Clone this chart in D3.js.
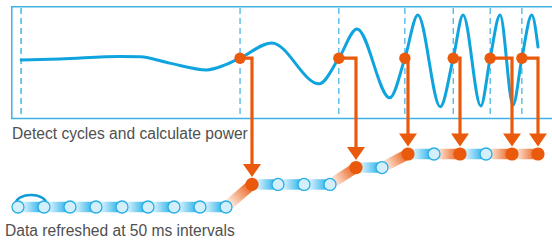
<!DOCTYPE html>
<html>
<head>
<meta charset="utf-8">
<script src="https://cdn.jsdelivr.net/npm/d3@7"></script>
<style>
    html, body { margin: 0; padding: 0; background: #fff; }
    svg { display: block; }
    .caption { font-family: 'Liberation Sans', Arial, sans-serif; font-size: 15.6px; fill: #505050; }
</style>
</head>
<body>
<svg id="chart" width="552" height="240"></svg>
<script>
'use strict';

// Waveform (time in ms, normalised amplitude)
const waveTimes = [6, 81, 196, 235, 292, 363, 398, 427, 488, 579, 617, 652, 715, 744, 769,
    812, 837, 856, 890, 908, 927, 952, 969, 988, 1000];
const waveValues = [0, 0.02, 0.08, 0.07, -0.07, -0.22, -0.11, 0.04, 0.38, -0.53, 0.04, 0.69, -0.84, 0.04, 1.0,
    -1.04, 0.04, 1.0, -1.02, 0.04, 1.0, -1.0, 0.04, 1.0, 0.29];

// Dashed cycle markers, and the detected cycles with the sample they land on
const markerTimes = [6, 427, 617, 744, 837, 908, 969];
const cycleTimes = [427, 617, 744, 837, 908, 969];
const cycleSamples = [9, 13, 15, 17, 19, 20];
const cycleLevel = 0.04;

// Refreshed samples (every 50 ms) and the accumulated power level
const sampleTimes = [0, 50, 100, 150, 200, 250, 300, 350, 400, 450, 500,
    550, 600, 650, 700, 750, 800, 850, 900, 950, 1000];
const sampleLevels = [0, 0, 0, 0, 0, 0, 0, 0, 0, 1, 1,
    1, 1, 1.75, 1.75, 2.35, 2.35, 2.35, 2.35, 2.35, 2.35];

const captions = ['Detect cycles and calculate power', 'Data refreshed at 50 ms intervals'];

const BLUE = '#10a4df';
const ORANGE = '#e95a0c';

const svg = d3.select('#chart');
const defs = svg.append('defs');

const x = d3.scaleLinear().domain([0, 1000]).range([18, 538]);
const yWave = d3.scaleLinear().domain([-1, 1]).range([105, 15]);
const yPower = d3.scaleLinear().domain([0, 2.35]).range([207, 154]);

drawFrame();
drawMarkers();
drawWave();
drawConnectors();
drawSamples();
drawCaptions();

function drawFrame() {
    svg.append('path')
        .attr('d', 'M560,6.8 H11.8 V118.6 H560')
        .attr('fill', 'none')
        .attr('stroke', '#3fb1e4')
        .attr('stroke-width', 1.5);
}

function drawMarkers() {
    svg.append('g')
        .selectAll('line')
        .data(markerTimes)
        .join('line')
        .attr('x1', d => x(d))
        .attr('x2', d => x(d))
        .attr('y1', 8)
        .attr('y2', 118)
        .attr('stroke', (d, i) => i === 0 ? '#5cc4ee' : '#29aae2')
        .attr('stroke-width', (d, i) => i === 0 ? 1.8 : 1.1)
        .attr('stroke-dasharray', '6,4');
}

function drawWave() {
    const line = d3.line()
        .x(d => x(d[0]))
        .y(d => yWave(d[1]))
        .curve(d3.curveMonotoneX);

    svg.append('path')
        .datum(d3.zip(waveTimes, waveValues))
        .attr('d', line)
        .attr('fill', 'none')
        .attr('stroke', BLUE)
        .attr('stroke-width', 3)
        .attr('stroke-linecap', 'round');
}

function drawConnectors() {
    const g = svg.append('g');

    cycleTimes.forEach((t, i) => {
        const idx = cycleSamples[i];
        const x0 = x(t);
        const y0 = yWave(cycleLevel);
        const x1 = x(sampleTimes[idx]);
        const tip = yPower(sampleLevels[idx]) - 7.5;

        g.append('path')
            .attr('d', `M${x0},${y0} H${x1} V${tip - 11}`)
            .attr('fill', 'none')
            .attr('stroke', ORANGE)
            .attr('stroke-width', 3.2);

        g.append('path')
            .attr('d', `M${x1 - 9},${tip - 13} L${x1 + 9},${tip - 13} L${x1},${tip} Z`)
            .attr('fill', ORANGE);
    });

    g.selectAll('circle')
        .data(cycleTimes)
        .join('circle')
        .attr('cx', d => x(d))
        .attr('cy', yWave(cycleLevel))
        .attr('r', 5.7)
        .attr('fill', ORANGE);
}

function drawSamples() {
    const g = svg.append('g');
    const pts = sampleTimes.map((t, i) => ({
        x: x(t),
        y: yPower(sampleLevels[i]),
        hit: cycleSamples.includes(i)
    }));

    // bands between samples, fading in towards the colour of the next one
    pts.slice(1).forEach((p, i) => {
        const prev = pts[i];
        const id = `seg-${i}`;
        const grad = defs.append('linearGradient')
            .attr('id', id)
            .attr('gradientUnits', 'userSpaceOnUse')
            .attr('x1', prev.x).attr('y1', prev.y)
            .attr('x2', p.x).attr('y2', p.y);

        grad.append('stop').attr('offset', 0.15)
            .attr('stop-color', p.hit ? '#fde8dc' : '#e6f6fd');
        grad.append('stop').attr('offset', 0.9)
            .attr('stop-color', p.hit ? '#ec6a28' : '#2ab3ea');

        g.append('line')
            .attr('x1', prev.x).attr('y1', prev.y)
            .attr('x2', p.x).attr('y2', p.y)
            .attr('stroke', `url(#${id})`)
            .attr('stroke-width', 10.5);
    });

    // interval bracket over the first two samples
    const cx = (pts[0].x + pts[1].x) / 2;
    const rx = (pts[1].x - pts[0].x) / 2 + 2;
    const cy = pts[0].y - 4;
    g.append('path')
        .attr('d', `M${cx - rx},${cy} A${rx},8 0 0 1 ${cx + rx},${cy}`)
        .attr('fill', 'none')
        .attr('stroke', '#0d9bd7')
        .attr('stroke-width', 2.5);

    g.selectAll('circle')
        .data(pts)
        .join('circle')
        .attr('cx', d => d.x)
        .attr('cy', d => d.y)
        .attr('r', d => d.hit ? 6.6 : 6)
        .attr('fill', d => d.hit ? ORANGE : '#d3effb')
        .attr('stroke', d => d.hit ? 'none' : '#27aee6')
        .attr('stroke-width', 1.3);
}

function drawCaptions() {
    svg.append('text')
        .attr('class', 'caption')
        .attr('x', 12)
        .attr('y', 138.5)
        .text(captions[0]);

    svg.append('text')
        .attr('class', 'caption')
        .attr('x', 5)
        .attr('y', 235.5)
        .text(captions[1]);
}
</script>
</body>
</html>
